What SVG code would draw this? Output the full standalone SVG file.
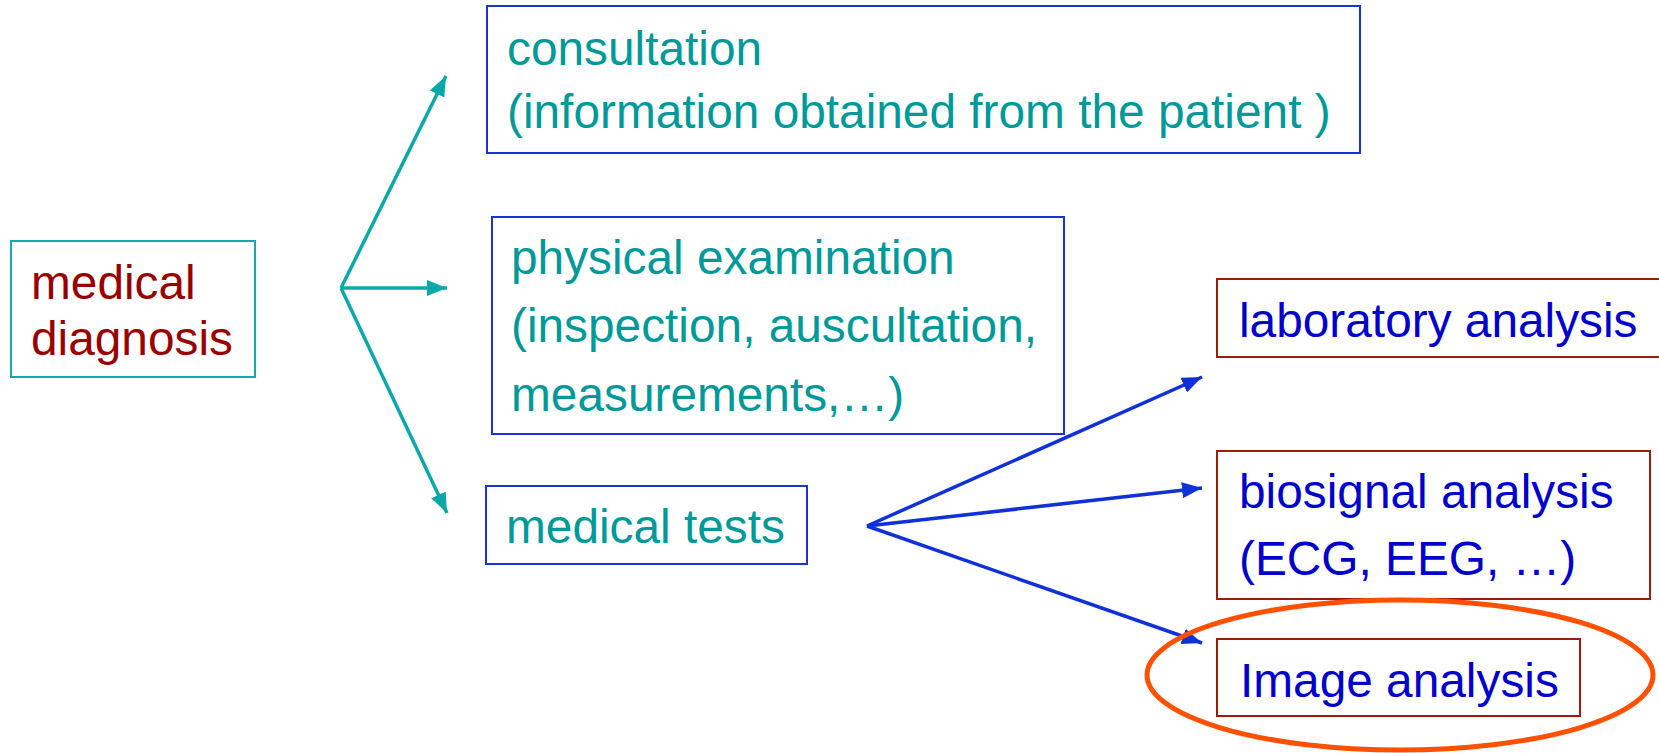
<svg xmlns="http://www.w3.org/2000/svg" width="1659" height="753" viewBox="0 0 1659 753">
<style>
text{font-family:"Liberation Sans",Arial,sans-serif;font-size:47.8px}
.teal{fill:#009999}
.dred{fill:#990000}
.blue{fill:#0000CC}
.bx-teal{fill:#fff;stroke:#14AAAA;stroke-width:2}
.bx-blue{fill:#fff;stroke:#1A33D6;stroke-width:2}
.bx-red{fill:#fff;stroke:#A01A0A;stroke-width:2}
.c-teal{stroke:#0AA8A8;stroke-width:3.5;fill:none}
.c-blue{stroke:#1030D8;stroke-width:3.5;fill:none}
</style>
<defs>
<marker id="ahT" markerUnits="userSpaceOnUse" markerWidth="21" markerHeight="16" refX="20" refY="8" orient="auto"><path d="M0,0 L20,8 L0,16 z" fill="#0AA8A8"/></marker>
<marker id="ahB" markerUnits="userSpaceOnUse" markerWidth="21" markerHeight="16" refX="20" refY="8" orient="auto"><path d="M0,0 L20,8 L0,16 z" fill="#1030D8"/></marker>
</defs>
<rect width="1659" height="753" fill="#fff"/>
<g id="medical-diagnosis">
<rect class="bx-teal" x="11" y="241" width="244" height="136"/>
<text class="dred" x="31" y="299">medical</text>
<text class="dred" x="31" y="355">diagnosis</text>
</g>
<g id="consultation">
<rect class="bx-blue" x="487" y="6" width="873" height="147"/>
<text class="teal" x="507" y="65">consultation</text>
<text class="teal" x="507" y="128">(information obtained from the patient )</text>
</g>
<g id="physical-examination">
<rect class="bx-blue" x="492" y="217" width="572" height="217"/>
<text class="teal" x="511" y="274">physical examination</text>
<text class="teal" x="511" y="342">(inspection, auscultation,</text>
<text class="teal" x="511" y="411">measurements,…)</text>
</g>
<g id="medical-tests">
<rect class="bx-blue" x="486" y="486" width="321" height="78"/>
<text class="teal" x="506" y="543">medical tests</text>
</g>
<g id="laboratory-analysis">
<rect class="bx-red" x="1217" y="279" width="450" height="78"/>
<text class="blue" x="1239" y="337">laboratory analysis</text>
</g>
<g id="biosignal-analysis">
<rect class="bx-red" x="1217" y="451" width="433" height="148"/>
<text class="blue" x="1239" y="508">biosignal analysis</text>
<text class="blue" x="1239" y="575">(ECG, EEG, …)</text>
</g>
<g id="image-analysis">
<rect class="bx-red" x="1217" y="639" width="363" height="77"/>
<text class="blue" x="1240" y="697">Image analysis</text>
</g>
<g id="connectors">
<line class="c-teal" x1="341" y1="288" x2="446" y2="76" marker-end="url(#ahT)"/>
<line class="c-teal" x1="341" y1="288" x2="447" y2="288" marker-end="url(#ahT)"/>
<line class="c-teal" x1="341" y1="288" x2="447" y2="513" marker-end="url(#ahT)"/>
<line class="c-blue" x1="867" y1="526" x2="1202" y2="377" marker-end="url(#ahB)"/>
<line class="c-blue" x1="867" y1="526" x2="1202" y2="488" marker-end="url(#ahB)"/>
<line class="c-blue" x1="867" y1="526" x2="1202" y2="643" marker-end="url(#ahB)"/>
</g>
<g id="highlight">
<ellipse cx="1400" cy="675" rx="253" ry="75" fill="none" stroke="#FF5000" stroke-width="5"/>
</g>
</svg>
